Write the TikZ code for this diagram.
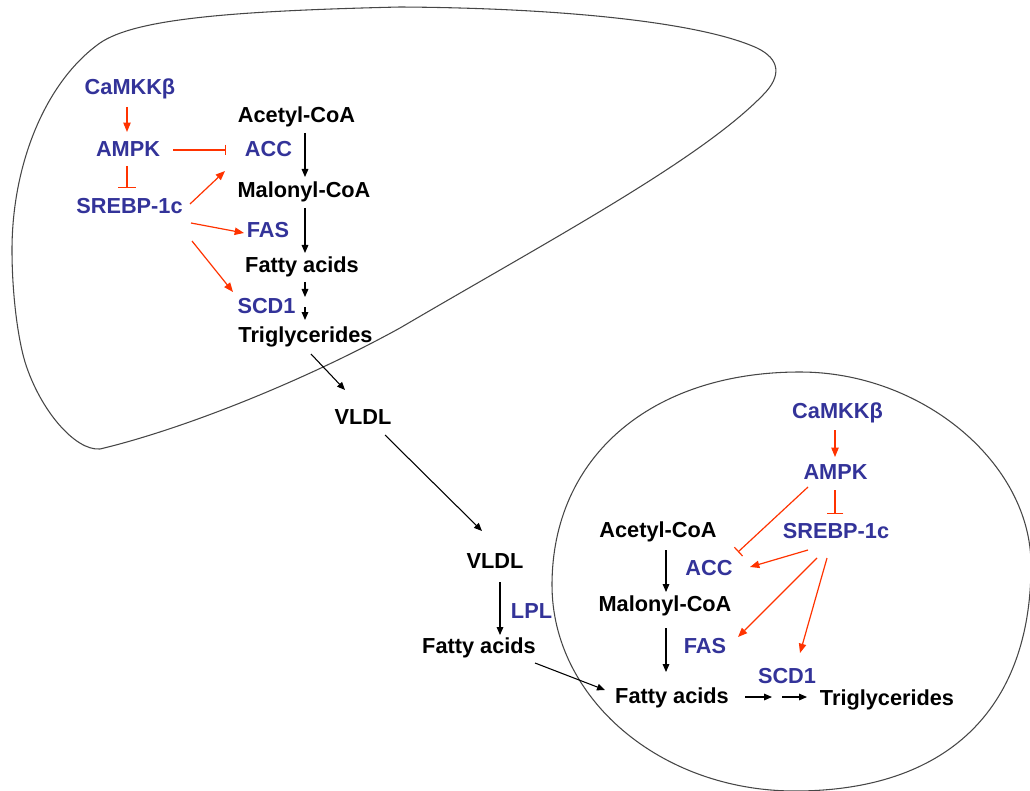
\documentclass[tikz,border=0pt]{standalone}
\usepackage{fontspec}
\setmainfont{Liberation Sans}
\usetikzlibrary{arrows.meta,calc}
\definecolor{eblue}{RGB}{51,51,153}
\definecolor{ered}{RGB}{255,51,0}
\definecolor{outl}{RGB}{70,70,70}
\begin{document}
\begin{tikzpicture}[x=0.75pt,y=-0.75pt,
  lbl/.style={anchor=base,inner sep=0pt,font=\fontsize{16.3pt}{19pt}\selectfont\bfseries},
  met/.style={lbl,text=black},
  enz/.style={lbl,text=eblue},
  blk/.style={draw=black,line width=0.8pt,-{Triangle[length=6pt,width=5pt]}},
  act/.style={draw=ered,line width=0.9pt,-{Triangle[length=7pt,width=5.5pt]}},
  inh/.style={draw=ered,color=ered,line width=0.9pt,-{Bar[width=#1,color=ered]}},
  inh/.default=9pt,
  organ/.style={draw=outl,line width=0.8pt}]
\useasboundingbox (0,0) rectangle (1030,791);
\clip (0,0) rectangle (1030,791);

% liver outline
\draw[organ] (100,449) .. controls (75,451) and (40,410) .. (25,362)
  .. controls (17,335) and (12,290) .. (12,250)
  .. controls (12,165) and (45,82) .. (100,43)
  .. controls (135,19) and (230,11) .. (400,7)
  .. controls (560,8) and (700,22) .. (757,48)
  .. controls (780,59) and (782,76) .. (763,95)
  .. controls (700,160) and (550,240) .. (400,328)
  .. controls (300,383) and (180,430) .. (100,449) -- cycle;

% muscle outline
\draw[organ] (552,585) .. controls (552,457) and (651,372) .. (800,372)
  .. controls (922,372) and (1031,463) .. (1031,565)
  .. controls (1031,711) and (945,791) .. (795,791)
  .. controls (660,791) and (552,698) .. (552,585) -- cycle;

% liver labels
\node[enz] (cam1) at (130,95) {CaMKKβ};
\node[enz] (ampk1) at (128,157) {AMPK};
\node[enz] (sreb1) at (129.5,214) {SREBP-1c};
\node[met] (acoa1) at (296.5,122.7) {Acetyl-CoA};
\node[enz] (acc1) at (268.5,157) {ACC};
\node[met] (mcoa1) at (304,197.5) {Malonyl-CoA};
\node[enz] (fas1) at (268,238) {FAS};
\node[met] (fa1) at (302,273) {Fatty acids};
\node[enz] (scd1) at (266.5,313) {SCD1};
\node[met] (tg1) at (305.5,342) {Triglycerides};
\node[met] (vldl1) at (363,424) {VLDL};
\node[met] (vldl2) at (495,568) {VLDL};
\node[enz] (lpl) at (531.5,618) {LPL};
\node[met] (fa2) at (479,653) {Fatty acids};

% muscle labels
\node[enz] (cam2) at (837.5,418) {CaMKKβ};
\node[enz] (ampk2) at (835.5,479) {AMPK};
\node[enz] (sreb2) at (836,538) {SREBP-1c};
\node[met] (acoa2) at (658,537) {Acetyl-CoA};
\node[enz] (acc2) at (709,575) {ACC};
\node[met] (mcoa2) at (665,611.5) {Malonyl-CoA};
\node[enz] (fas2) at (705,653) {FAS};
\node[enz] (scd2) at (787,683) {SCD1};
\node[met] (fa3) at (672,703) {Fatty acids};
\node[met] (tg2) at (887,705) {Triglycerides};

\coordinate (step1) at (305,302);
\coordinate (step2) at (777,697);

% liver connectors
\draw[act] ($(cam1.base)+(-3,12)$) -- ($(ampk1.base)+(-1,-25)$);
\draw[inh=13pt] ($(ampk1.base)+(-1,9)$) -- ($(sreb1.base)+(-2.5,-26)$);
\draw[inh=8pt] ($(ampk1.base)+(45,-7)$) -- ($(acc1.base)+(-42.5,-7)$);
\draw[act] ($(sreb1.base)+(60.5,-10)$) -- ($(acc1.base)+(-43.5,14)$);
\draw[act] ($(sreb1.base)+(61.5,9)$) -- ($(fas1.base)+(-24,-5)$);
\draw[act] ($(sreb1.base)+(62.5,27)$) -- ($(scd1.base)+(-33.5,-21)$);
\draw[blk] ($(acoa1.base)+(8.5,10.3)$) -- ($(mcoa1.base)+(1,-20.5)$);
\draw[blk] ($(mcoa1.base)+(1,10.5)$) -- ($(fa1.base)+(3,-20)$);
\draw[blk] ($(fa1.base)+(3,9)$) -- ($(step1)+(0,-5)$);
\draw[blk] ($(step1)+(0,5)$) -- ($(tg1.base)+(-0.5,-22)$);
\draw[blk] ($(tg1.base)+(5.5,12)$) -- ($(vldl1.base)+(-18,-34)$);
\draw[blk] ($(vldl1.base)+(22,11)$) -- ($(vldl2.base)+(-13,-37)$);
\draw[blk] ($(vldl2.base)+(5,14)$) -- ($(fa2.base)+(21,-18)$);
\draw[blk] ($(fa2.base)+(56,10)$) -- ($(fa3.base)+(-67,-13)$);

% muscle connectors
\draw[act] ($(cam2.base)+(-2.5,12)$) -- ($(ampk2.base)+(-0.5,-22)$);
\draw[inh=12.5pt] ($(ampk2.base)+(-0.5,11)$) -- ($(sreb2.base)+(-1,-24)$);
\draw[inh=9pt] ($(ampk2.base)+(-27.5,8)$) -- ($(acc2.base)+(29,-23)$);
\draw[act] ($(sreb2.base)+(-28,12)$) -- ($(acc2.base)+(41,-8)$);
\draw[act] ($(sreb2.base)+(-19,20)$) -- ($(fas2.base)+(33,-16)$);
\draw[act] ($(sreb2.base)+(-9,20)$) -- ($(scd2.base)+(13,-30)$);
\draw[blk] ($(acoa2.base)+(8,13)$) -- ($(mcoa2.base)+(1,-19.5)$);
\draw[blk] ($(mcoa2.base)+(1,16.5)$) -- ($(fa3.base)+(-6,-31)$);
\draw[blk] ($(fa3.base)+(73,-6)$) -- ($(step2)+(-5,0)$);
\draw[blk] ($(step2)+(5,0)$) -- ($(tg2.base)+(-80,-8)$);
\end{tikzpicture}
\end{document}
